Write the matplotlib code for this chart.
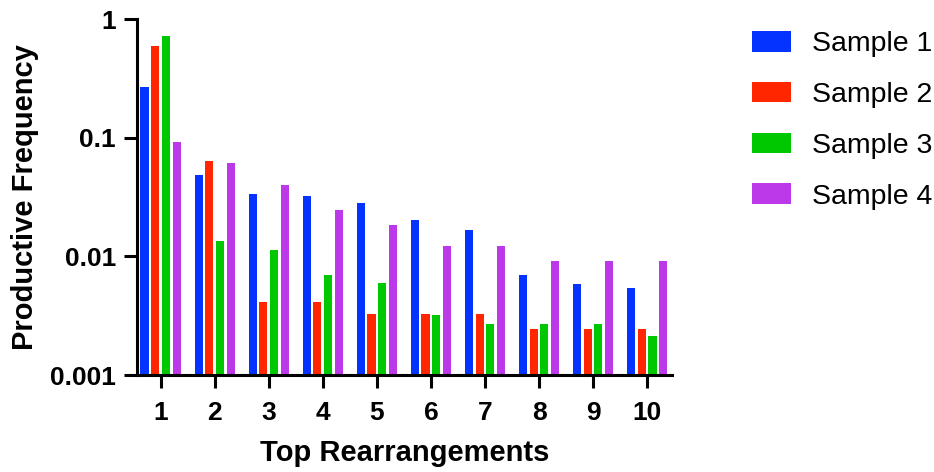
import matplotlib.pyplot as plt
import numpy as np

plt.rcParams['font.family'] = ['Liberation Sans', 'DejaVu Sans']

# data
groups = [1, 2, 3, 4, 5, 6, 7, 8, 9, 10]
labels = ["Sample 1", "Sample 2", "Sample 3", "Sample 4"]
sample1 = [0.267, 0.0487, 0.0336, 0.0324, 0.0283, 0.0203, 0.0167, 0.00698, 0.00586, 0.00543]
sample2 = [0.595, 0.0638, 0.00413, 0.00413, 0.00327, 0.00327, 0.00327, 0.00245, 0.00245, 0.00245]
sample3 = [0.723, 0.0135, 0.01135, 0.00698, 0.00598, 0.00321, 0.0027, 0.0027, 0.0027, 0.00214]
sample4 = [0.0923, 0.0614, 0.0401, 0.0247, 0.01844, 0.01227, 0.01227, 0.00917, 0.00917, 0.00917]
colors = ["#0433FF", "#FF2600", "#00C800", "#BB39E8"]

fig = plt.figure(figsize=(9.34, 4.72), dpi=100)
ax = fig.add_axes([0.147, 0.2055, 0.5725, 0.754])

x = np.array(groups)
pitch = 0.198
for i, (vals, c, lab) in enumerate(zip([sample1, sample2, sample3, sample4], colors, labels)):
    ax.bar(x + (i - 1.5) * pitch, vals, width=0.15, color=c, label=lab)

ax.set_yscale('log')
ax.set_ylim(0.001, 1)
ax.set_xlim(0.57, 10.46)
ax.set_yticks([0.001, 0.01, 0.1, 1])
ax.set_yticklabels(["0.001", "0.01", "0.1", "1"])
ax.minorticks_off()
ax.set_xticks(groups)
ax.set_xticklabels([str(g) for g in groups])

for s in ['top', 'right']:
    ax.spines[s].set_visible(False)
for s in ['left', 'bottom']:
    ax.spines[s].set_linewidth(2.2)
ax.tick_params(axis='both', width=2.2, length=9.5, labelsize=19)
ax.tick_params(axis='x', pad=9)
ax.tick_params(axis='y', pad=6)
for t in ax.get_xticklabels() + ax.get_yticklabels():
    t.set_fontweight('bold')

ax.set_xlabel('Top Rearrangements', fontsize=21, fontweight='bold', labelpad=10)
ax.set_ylabel('Productive Frequency', fontsize=21, fontweight='bold', labelpad=8)

ax.legend(loc='upper left', bbox_to_anchor=(752 / 934, 1 - 31 / 472),
          bbox_transform=fig.transFigure, frameon=False, fontsize=20.5,
          borderpad=0, borderaxespad=0, handlelength=1.37, handleheight=0.74,
          handletextpad=0.74, labelspacing=0.86)

fig.savefig('out.png', dpi=100)
